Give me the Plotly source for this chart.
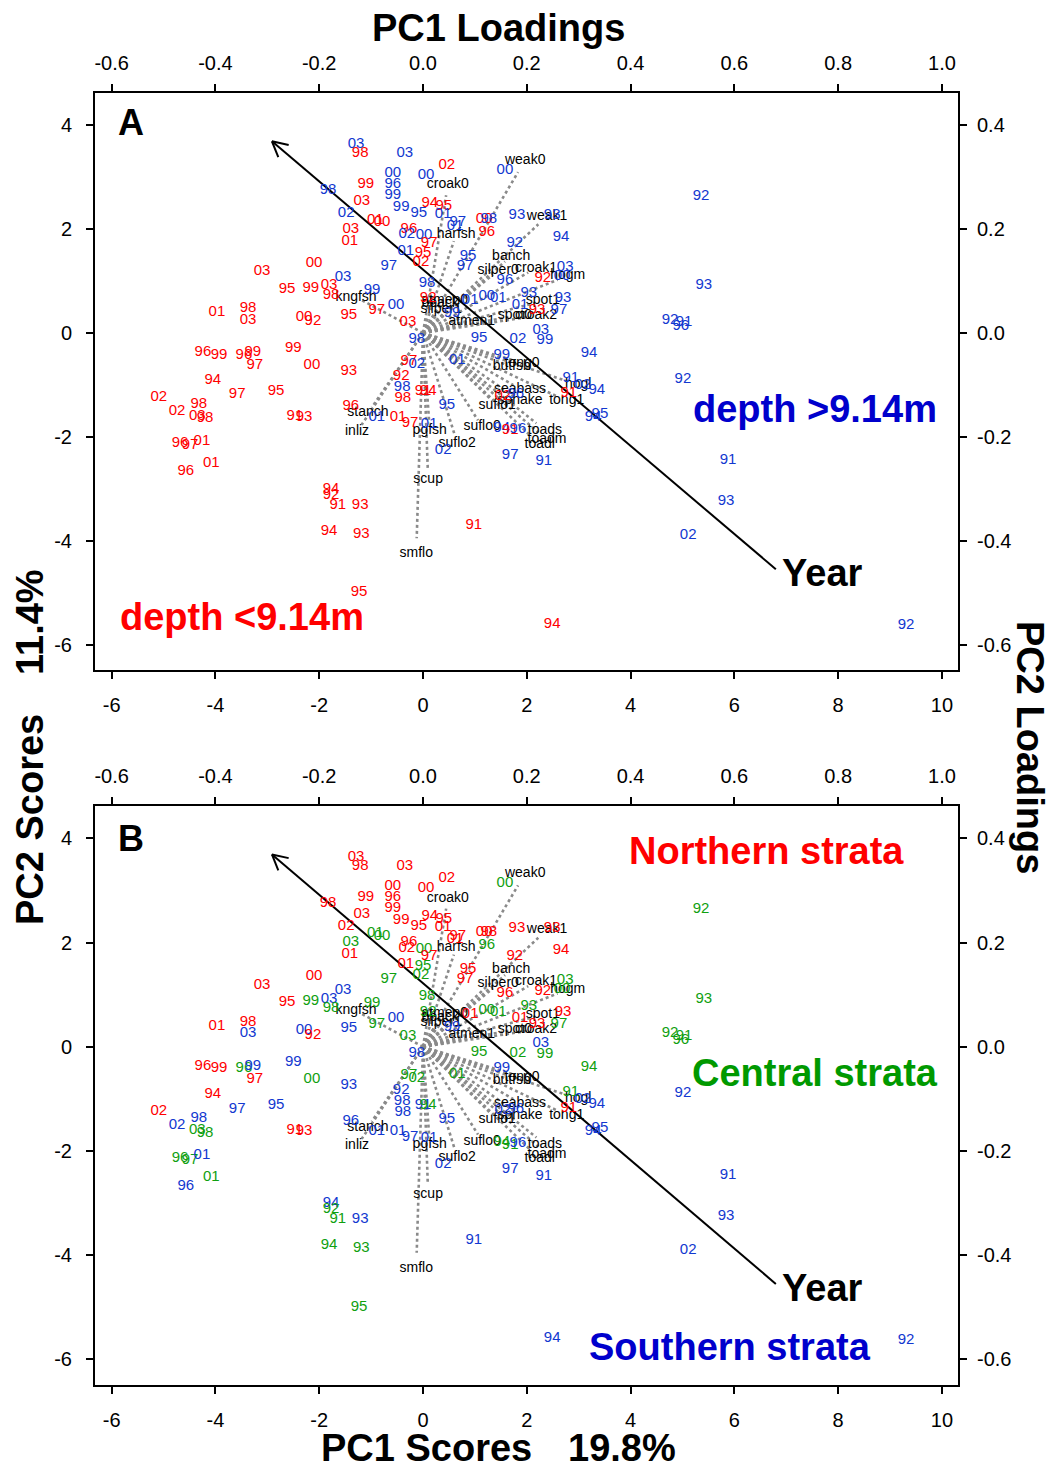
import math
import plotly.graph_objects as go

# ---- site-year PCA scores (PC1, PC2) ----
year_lbl = ["03","98","03","02","00","00","00","96","99","99","98","03","99","95","94","95","01","02","01","00",
            "03","01","96","02","00","97","01","95","02","97","97","01","00","98","96","93","93","92","94","95",
            "97","03","00","92","96","93","93","97","01","93","00","01","01","92","98","03","03","98","99","95",
            "97","00","03","99","03","00","95","99","01","98","03","00","92","96","99","96","99","97","99","00",
            "94","97","95","02","02","98","03","98","91","93","96","97","01","01","96","94","92","91","93","94",
            "93","95","91","94","98","95","02","03","99","94","99","01","97","02","93","92","98","98","91","94",
            "96","01","01","97","01","95","02","02","96","94","91","96","97","91","91","02","91","94","94","95",
            "92","93","92","91","96","92","91","93","02","92"]
pc1 = [-1.29,-1.21,-0.35,0.46,1.58,-0.58,0.06,-0.58,-1.10,-0.58,-1.83,-1.18,-0.42,-0.08,0.13,0.40,0.39,-1.48,-0.92,-0.79,
       -1.39,-1.41,-0.27,-0.31,0.02,0.12,-0.33,0.00,-0.04,-0.66,0.67,0.62,1.18,1.27,1.23,1.81,2.49,1.77,2.66,0.87,
       0.81,2.74,2.68,2.31,1.58,2.04,2.70,2.62,1.87,2.20,1.23,1.45,0.91,0.10,0.08,-1.54,-1.81,-1.77,-0.98,-1.43,
       -0.89,-0.52,-0.29,0.56,-3.10,-2.10,-2.62,-2.16,-3.97,-3.37,-3.37,-2.29,-2.12,-4.24,-3.93,-3.45,-3.28,-3.24,-2.50,-2.14,
       -4.05,-3.58,-2.83,-5.09,-4.74,-4.32,-4.35,-4.20,-2.47,-2.29,-4.68,-4.49,-4.26,-4.08,-4.57,-1.77,-1.77,-1.64,-1.21,-1.81,
       -1.19,-1.23,0.98,2.49,-0.12,1.08,1.83,2.27,2.35,3.20,1.52,0.66,-0.27,-0.12,-1.43,-0.42,-0.40,-0.39,0.00,0.10,
       -1.39,-0.89,-0.48,-0.25,0.12,0.46,0.39,1.54,1.79,1.52,1.68,1.83,1.68,2.33,2.85,3.08,2.81,3.35,3.28,3.41,
       5.36,5.41,4.76,5.03,4.97,5.01,5.88,5.84,5.11,9.31]
pc2 = [3.63,3.46,3.46,3.23,3.13,3.08,3.04,2.87,2.87,2.65,2.75,2.54,2.42,2.31,2.50,2.44,2.29,2.31,2.17,2.13,
       2.00,1.77,2.00,1.90,1.88,1.73,1.58,1.54,1.37,1.29,2.13,2.06,2.19,2.19,1.94,2.27,2.27,1.73,1.85,1.48,
       1.29,1.27,1.10,1.06,1.02,0.77,0.67,0.44,0.54,0.44,0.71,0.67,0.63,0.67,0.96,1.08,0.92,0.73,0.83,0.35,
       0.44,0.54,0.21,0.37,1.19,1.35,0.85,0.87,0.40,0.48,0.25,0.31,0.23,-0.37,-0.42,-0.42,-0.37,-0.62,-0.29,-0.63,
       -0.92,-1.19,-1.12,-1.23,-1.50,-1.37,-1.60,-1.65,-1.60,-1.62,-2.13,-2.17,-2.08,-2.50,-2.67,-3.00,-3.12,-3.31,-3.31,-3.81,
       -3.87,-5.00,-3.71,-5.60,-0.12,-0.10,-0.13,0.06,-0.15,-0.40,-0.42,-0.52,-0.54,-0.60,-0.73,-0.83,-1.04,-1.25,-1.12,-1.12,
       -1.42,-1.62,-1.63,-1.73,-1.75,-1.40,-2.25,-1.21,-1.19,-1.83,-1.88,-1.85,-2.35,-2.48,-0.88,-1.00,-1.17,-1.10,-1.63,-1.56,
       2.63,0.92,0.25,0.21,0.12,-0.90,-2.46,-3.25,-3.90,-5.63]
# depth class: s = depth <9.14m, d = depth >9.14m
depth = ["d","s","d","s","d","d","d","d","s","d","d","s","d","d","s","s","d","d","s","s",
         "s","s","s","d","d","s","d","s","s","d","d","d","s","d","s","d","d","d","d","d",
         "d","d","d","s","d","d","d","d","d","s","d","d","d","s","d","d","s","s","d","s",
         "s","d","s","d","s","s","s","s","s","s","s","s","s","s","s","s","s","s","s","s",
         "s","s","s","s","s","s","s","s","s","s","s","s","s","s","s","s","s","s","s","s",
         "s","s","s","s","d","d","d","d","d","d","d","d","s","d","s","s","d","s","s","s",
         "s","d","s","s","d","d","d","s","d","d","s","d","d","d","d","d","s","d","d","d",
         "d","d","d","d","d","d","d","d","d","d"]
# stratum: N = northern, C = central, S = southern
strata = ["N","N","N","N","C","N","N","N","N","N","N","N","N","N","N","N","N","N","C","C",
          "C","N","N","N","C","N","N","C","C","C","N","N","N","N","C","N","N","N","N","N",
          "N","C","C","N","N","C","N","C","N","N","C","C","N","C","C","S","S","C","C","S",
          "C","S","C","S","N","N","N","C","N","N","S","S","N","N","N","C","S","N","S","C",
          "N","S","S","N","S","S","C","C","N","N","C","C","S","C","S","S","C","C","S","C",
          "C","C","S","S","S","C","C","S","C","C","S","C","C","C","S","S","S","S","S","C",
          "S","S","S","S","S","S","S","S","S","C","C","S","S","S","C","S","N","S","S","S",
          "C","C","C","C","C","S","S","S","S","S"]

# ---- species loadings (PC1, PC2) ----
species = ["weak0","croak0","weak1","harfsh","banch","silper0","croak1","hogm","kngfsh","atmen0",
           "bback","silper1","spot1","croak2","spot0","atmen1","tong0","butfsh","seabass","hogl",
           "sphake","tong1","suflo1","stanch","inliz","pgfsh","suflo0","toads","toadm","toadl",
           "suflo2","scup","smflo"]
load1 = [0.197,0.048,0.239,0.064,0.170,0.145,0.218,0.279,-0.129,0.042,
         0.033,0.035,0.231,0.218,0.177,0.094,0.191,0.171,0.187,0.299,
         0.187,0.277,0.143,-0.106,-0.127,0.013,0.114,0.235,0.239,0.225,
         0.066,0.010,-0.013]
load2 = [0.333,0.285,0.225,0.190,0.148,0.121,0.125,0.110,0.069,0.063,
         0.056,0.046,0.062,0.033,0.033,0.023,-0.058,-0.065,-0.108,-0.100,
         -0.131,-0.131,-0.140,-0.154,-0.190,-0.187,-0.181,-0.187,-0.206,-0.215,
         -0.212,-0.283,-0.425]

# Year trend vector (score units): tail -> head
year_tail = [6.80, -4.55]
year_head = [-2.91, 3.69]

# tick values
score_x_ticks = [-6, -4, -2, 0, 2, 4, 6, 8, 10]
score_y_ticks = [-6, -4, -2, 0, 2, 4]
load_x_ticks = [-0.6, -0.4, -0.2, 0.0, 0.2, 0.4, 0.6, 0.8, 1.0]
load_y_ticks = [-0.6, -0.4, -0.2, 0.0, 0.2, 0.4]

LOAD_SCALE = 10.0
X_RANGE = [-6.32, 10.31]
Y_RANGE = [-6.49, 4.62]

RED = "#FF0000"
BLUE = "#1238D0"
GREEN = "#10A010"
depth_col = {"s": RED, "d": BLUE}
strata_col = {"N": RED, "C": GREEN, "S": BLUE}
FONT = "Liberation Sans, Arial, sans-serif"

fig = go.Figure()

def add_panel(xa, ya, colors):
    # dotted species vectors
    lx, ly = [], []
    for a, b in zip(load1, load2):
        lx += [0, a * LOAD_SCALE * 0.93, None]
        ly += [0, b * LOAD_SCALE * 0.93, None]
    fig.add_trace(go.Scatter(x=lx, y=ly, mode="lines", xaxis=xa, yaxis=ya,
                             line=dict(color="#8a8a8a", width=2.6, dash="dot"),
                             hoverinfo="skip", showlegend=False))
    # Year arrow with open head
    hx, hy = year_head
    tx, ty = year_tail
    ang = math.atan2(hy - ty, hx - tx)
    hl = 0.33
    ax_, ay_ = [tx, hx, None], [ty, hy, None]
    for d in (math.radians(28), -math.radians(28)):
        ax_ += [hx, hx - hl * math.cos(ang + d), None]
        ay_ += [hy, hy - hl * math.sin(ang + d), None]
    fig.add_trace(go.Scatter(x=ax_, y=ay_, mode="lines", xaxis=xa, yaxis=ya,
                             line=dict(color="black", width=2),
                             hoverinfo="skip", showlegend=False))
    # species names
    fig.add_trace(go.Scatter(x=[v * LOAD_SCALE for v in load1], y=[v * LOAD_SCALE for v in load2],
                             mode="text", text=species, xaxis=xa, yaxis=ya,
                             textfont=dict(family=FONT, size=14, color="black"),
                             hoverinfo="skip", showlegend=False))
    # site-year scores
    fig.add_trace(go.Scatter(x=pc1, y=pc2, mode="text", text=year_lbl, xaxis=xa, yaxis=ya,
                             textfont=dict(family=FONT, size=15, color=colors),
                             hoverinfo="skip", showlegend=False))

add_panel("x", "y", [depth_col[d] for d in depth])
add_panel("x3", "y3", [strata_col[s] for s in strata])

# dummy traces so the loading axes are drawn
for xa, ya in (("x2", "y2"), ("x4", "y4")):
    fig.add_trace(go.Scatter(x=[None], y=[None], xaxis=xa, yaxis=ya, mode="markers",
                             showlegend=False, hoverinfo="skip"))

def fmt(v, nd):
    return f"{v:.{nd}f}"

tick_font = dict(family=FONT, size=20, color="black")
common = dict(showgrid=False, zeroline=False, showline=True, linecolor="black", linewidth=2,
              ticks="outside", ticklen=7, tickwidth=1.5, tickcolor="black", tickfont=tick_font)

score_x = dict(range=X_RANGE, tickvals=score_x_ticks, ticktext=[fmt(v, 0) for v in score_x_ticks], **common)
score_y = dict(range=Y_RANGE, tickvals=score_y_ticks, ticktext=[fmt(v, 0) for v in score_y_ticks], **common)
load_x = dict(range=[v / LOAD_SCALE for v in X_RANGE], tickvals=load_x_ticks,
              ticktext=[fmt(v, 1) for v in load_x_ticks], **common)
load_y = dict(range=[v / LOAD_SCALE for v in Y_RANGE], tickvals=load_y_ticks,
              ticktext=[fmt(v, 1) for v in load_y_ticks], **common)

XD = [95 / 1053, 958 / 1053]
YD_A = [1 - 670 / 1471, 1 - 93 / 1471]
YD_B = [1 - 1385 / 1471, 1 - 806 / 1471]

fig.update_layout(
    width=1053, height=1471, margin=dict(l=0, r=0, t=0, b=0),
    paper_bgcolor="white", plot_bgcolor="white",
    xaxis=dict(domain=XD, anchor="y", side="bottom", ticklabelstandoff=9, **score_x),
    yaxis=dict(domain=YD_A, anchor="x", side="left", ticklabelstandoff=10, **score_y),
    xaxis2=dict(overlaying="x", anchor="y", side="top", ticklabelstandoff=6, **load_x),
    yaxis2=dict(overlaying="y", anchor="x", side="right", ticklabelstandoff=6, **load_y),
    xaxis3=dict(domain=XD, anchor="y3", side="bottom", ticklabelstandoff=9, **score_x),
    yaxis3=dict(domain=YD_B, anchor="x3", side="left", ticklabelstandoff=10, **score_y),
    xaxis4=dict(overlaying="x3", anchor="y3", side="top", ticklabelstandoff=6, **load_x),
    yaxis4=dict(overlaying="y3", anchor="x3", side="right", ticklabelstandoff=6, **load_y),
)

def note(text, x, y, color="black", angle=0, size=38, xref="paper", yref="paper",
         xanchor="center", yanchor="middle"):
    fig.add_annotation(text=f"<b>{text}</b>", x=x, y=y, xref=xref, yref=yref, showarrow=False,
                       textangle=angle, xanchor=xanchor, yanchor=yanchor,
                       font=dict(family=FONT, size=size, color=color))

note("A", 131 / 1053, 1 - 122 / 1471, size=36)
note("B", 131 / 1053, 1 - 838 / 1471, size=36)
note("Year", 6.88, -4.63, xref="x", yref="y", xanchor="left")
note("Year", 6.88, -4.63, xref="x3", yref="y3", xanchor="left")
note("depth &gt;9.14m", 815 / 1053, 1 - 409 / 1471, color="#0000CC")
note("depth &lt;9.14m", 242 / 1053, 1 - 617 / 1471, color=RED)
note("Northern strata", 766 / 1053, 1 - 851 / 1471, color=RED)
note("Central strata", 815 / 1053, 1 - 1073 / 1471, color="#009900")
note("Southern strata", 730 / 1053, 1 - 1347 / 1471, color="#0000CC")
note("PC1 Loadings", 498 / 1053, 1 - 28 / 1471)
note("PC1 Scores", 426 / 1053, 0.0, yanchor="bottom")
note("19.8%", 622 / 1053, 0.0, yanchor="bottom")
note("PC2 Scores", 30 / 1053, 1 - 820 / 1471, angle=-90)
note("11.4%", 30 / 1053, 1 - 622 / 1471, angle=-90)
note("PC2 Loadings", 1030 / 1053, 1 - 747 / 1471, angle=90)

fig.write_html("out.html")
